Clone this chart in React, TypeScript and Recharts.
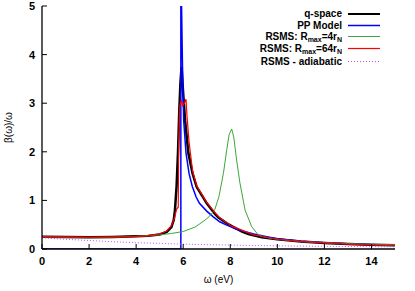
import React from 'react';
import { LineChart, Line, XAxis, YAxis } from 'recharts';

// q-space
const qX = [0, 1, 2, 3, 4, 4.5, 5, 5.3, 5.5, 5.6, 5.65, 5.72, 5.78, 5.83, 5.88, 5.93, 6.0, 6.08, 6.22, 6.4, 6.57, 6.8, 7.0, 7.35, 7.5, 7.85, 8.06, 8.5, 8.77, 9.34, 10, 11, 12, 13, 14, 15];
const qY = [0.25, 0.245, 0.24, 0.245, 0.26, 0.27, 0.3, 0.35, 0.45, 0.6, 0.8, 1.3, 2.0, 2.8, 3.4, 3.75, 3.2, 2.65, 1.97, 1.55, 1.28, 1.1, 0.94, 0.72, 0.65, 0.53, 0.47, 0.36, 0.31, 0.24, 0.2, 0.155, 0.125, 0.105, 0.09, 0.075];

// PP model
const ppX = [0, 5.9, 5.9, 5.93, 5.97, 6.02, 6.12, 6.25, 6.39, 6.55, 6.69, 7.0, 7.28, 7.55, 7.85, 8.2, 8.6, 9, 9.5, 10, 11, 12, 13, 14, 15];
const ppY = [0, 0, 8, 5, 3.75, 2.65, 1.97, 1.55, 1.28, 1.07, 0.94, 0.78, 0.66, 0.56, 0.49, 0.42, 0.36, 0.31, 0.26, 0.21, 0.16, 0.13, 0.11, 0.09, 0.075];

// RSMS Rmax = 4 rN
const r4X = [0, 1, 2, 3, 4, 5, 5.5, 6, 6.5, 6.71, 7.0, 7.2, 7.35, 7.52, 7.71, 7.85, 7.95, 8.06, 8.15, 8.27, 8.41, 8.63, 8.91, 9.19, 9.48, 10, 11, 12, 13, 14, 15];
const r4Y = [0.25, 0.245, 0.24, 0.245, 0.26, 0.29, 0.32, 0.36, 0.45, 0.52, 0.62, 0.72, 0.82, 1.08, 1.56, 2.04, 2.35, 2.47, 2.3, 1.83, 1.36, 0.8, 0.46, 0.29, 0.24, 0.2, 0.155, 0.13, 0.11, 0.095, 0.085];

// RSMS Rmax = 64 rN
const r64X = [0, 1, 2, 3, 4, 4.5, 5, 5.3, 5.5, 5.62, 5.7, 5.72, 5.79, 5.81, 5.86, 5.92, 5.98, 6.05, 6.12, 6.16, 6.25, 6.4, 6.57, 7.0, 7.5, 8.06, 9, 10, 11, 12, 13, 14, 15];
const r64Y = [0.25, 0.245, 0.24, 0.245, 0.26, 0.27, 0.31, 0.37, 0.48, 0.62, 0.78, 0.82, 0.86, 2.2, 2.95, 3.05, 2.95, 3.0, 3.08, 2.75, 2.2, 1.6, 1.3, 0.96, 0.66, 0.47, 0.29, 0.2, 0.155, 0.125, 0.1, 0.085, 0.07];

// RSMS adiabatic
const adX = [0, 1, 2, 3, 4, 5, 6, 7, 8, 10, 12, 15];
const adY = [0.23, 0.2, 0.175, 0.15, 0.13, 0.115, 0.1, 0.09, 0.08, 0.065, 0.055, 0.045];

const xTicks = [0, 2, 4, 6, 8, 10, 12, 14];
const yTicks = [0, 1, 2, 3, 4, 5];

const zip = (xs: number[], ys: number[]) => xs.map((x, i) => ({ x, y: ys[i] }));

const qData = zip(qX, qY);
const ppData = zip(ppX, ppY);
const r4Data = zip(r4X, r4Y);
const r64Data = zip(r64X, r64Y);
const adData = zip(adX, adY);

const FONT = '"Liberation Sans", Arial, sans-serif';
const tickStyle = { fill: '#000', fontSize: 11, fontWeight: 'bold' as const, fontFamily: FONT };
const subStyle: React.CSSProperties = { fontSize: 7, position: 'relative', top: 2.5, lineHeight: '7px' };

const legendItems = [
  { key: 'q', label: <>q-space</>, color: '#000000', width: 2, dash: undefined as string | undefined, y: 14 },
  { key: 'pp', label: <>PP Model</>, color: '#0000ff', width: 1.5, dash: undefined, y: 25.5 },
  { key: 'r4', label: <>RSMS: R<span style={subStyle}>max</span>=4r<span style={subStyle}>N</span></>, color: '#3aa83a', width: 1, dash: undefined, y: 36.5 },
  { key: 'r64', label: <>RSMS: R<span style={subStyle}>max</span>=64r<span style={subStyle}>N</span></>, color: '#ff0000', width: 1.2, dash: undefined, y: 48.5 },
  { key: 'ad', label: <>RSMS - adiabatic</>, color: '#c050f0', width: 1, dash: '1 2', y: 61.5 },
];

export default function App() {
  return (
    <div style={{ position: 'absolute', left: 0, top: 0, width: 415, height: 291, background: '#fff' }}>
      <LineChart width={415} height={291} margin={{ top: 6, right: 20, bottom: 0, left: 0 }}>
        <XAxis
          dataKey="x"
          type="number"
          domain={[0, 15]}
          ticks={xTicks}
          allowDataOverflow
          height={42}
          tickSize={-5}
          tickMargin={13}
          tick={tickStyle}
          stroke="#000"
          axisLine={{ stroke: '#000', strokeWidth: 1.3 }}
          tickLine={{ stroke: '#000' }}
          label={(props: any) => {
            const vb = props.viewBox;
            return (
              <text x={vb.x + vb.width / 2} y={283} textAnchor="middle" fontSize={10} fontFamily={FONT} fill="#000">
                ω (eV)
              </text>
            );
          }}
        />
        <XAxis
          xAxisId="top"
          dataKey="x"
          type="number"
          orientation="top"
          domain={[0, 15]}
          ticks={xTicks}
          height={0}
          tickSize={-5}
          tick={false}
          stroke="#000"
          axisLine={{ stroke: '#000', strokeWidth: 1.3 }}
          tickLine={{ stroke: '#000' }}
        />
        <YAxis
          type="number"
          domain={[0, 5]}
          ticks={yTicks}
          allowDataOverflow
          width={42}
          tickSize={-5}
          tickMargin={12}
          tick={tickStyle}
          stroke="#000"
          axisLine={{ stroke: '#000', strokeWidth: 1.3 }}
          tickLine={{ stroke: '#000' }}
          label={(props: any) => {
            const vb = props.viewBox;
            const cy = vb.y + vb.height / 2;
            return (
              <text x={12} y={cy} transform={`rotate(-90, 12, ${cy})`} textAnchor="middle" fontSize={10} fontFamily={FONT} fill="#000">
                β(ω)/ω
              </text>
            );
          }}
        />
        <YAxis
          yAxisId="right"
          orientation="right"
          type="number"
          domain={[0, 5]}
          ticks={yTicks}
          width={0}
          tickSize={-5}
          tick={false}
          stroke="#000"
          axisLine={{ stroke: '#000', strokeWidth: 1.3 }}
          tickLine={{ stroke: '#000' }}
        />
        <Line data={qData} dataKey="y" type="linear" stroke="#000000" strokeWidth={2.5} dot={false} isAnimationActive={false} />
        <Line data={ppData} dataKey="y" type="linear" stroke="#0000ff" strokeWidth={1.5} dot={false} isAnimationActive={false} />
        <Line data={r4Data} dataKey="y" type="linear" stroke="#3aa83a" strokeWidth={1} dot={false} isAnimationActive={false} />
        <Line data={r64Data} dataKey="y" type="linear" stroke="#ff0000" strokeWidth={1.2} dot={false} isAnimationActive={false} />
        <Line data={adData} dataKey="y" type="linear" stroke="#c050f0" strokeWidth={1} strokeDasharray="1 2" dot={false} isAnimationActive={false} />
      </LineChart>
      {legendItems.map((it) => (
        <div key={it.key} style={{ position: 'absolute', left: 180, top: it.y - 5, width: 162, height: 10, lineHeight: '10px', textAlign: 'right', fontFamily: FONT, fontWeight: 'bold', fontSize: 10, color: '#000', whiteSpace: 'nowrap' }}>
          {it.label}
        </div>
      ))}
      <svg style={{ position: 'absolute', left: 0, top: 0 }} width={415} height={80}>
        {legendItems.map((it) => (
          <line key={it.key} x1={348} x2={380} y1={it.y} y2={it.y} stroke={it.color} strokeWidth={it.width} strokeDasharray={it.dash} />
        ))}
      </svg>
    </div>
  );
}
